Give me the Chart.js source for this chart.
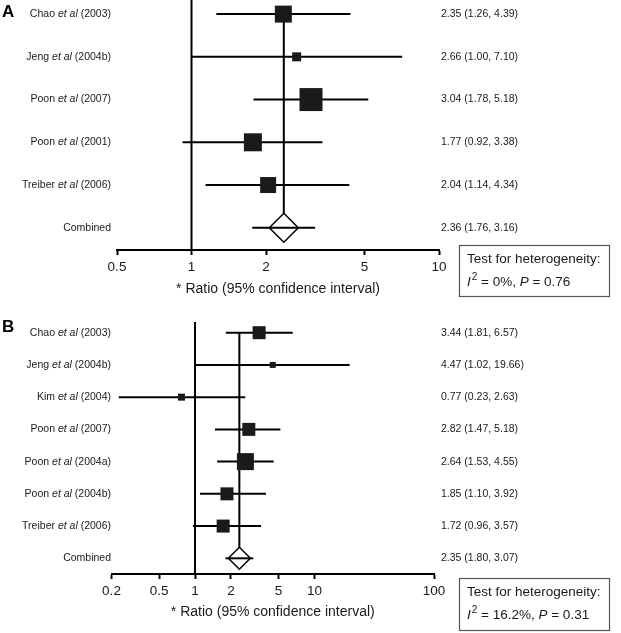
<!DOCTYPE html>
<html>
<head>
<meta charset="utf-8">
<script src="https://cdn.jsdelivr.net/npm/chart.js@4.4.1/dist/chart.umd.min.js"></script>
<style>
  html, body { margin: 0; padding: 0; background: #fff; }
  canvas { display: block; }
</style>
</head>
<body>
<canvas id="forest-a" width="621" height="310"></canvas>
<canvas id="forest-b" width="621" height="323"></canvas>
<script>
// panel A
const authorsA = ['Chao', 'Jeng', 'Poon', 'Poon', 'Treiber'];
const yearsA = ['2003', '2004b', '2007', '2001', '2006'];
const ratioA = [2.35, 2.66, 3.04, 1.77, 2.04];
const lowerA = [1.26, 1.00, 1.78, 0.92, 1.14];
const upperA = [4.39, 7.10, 5.18, 3.38, 4.34];
const combinedA = [2.36, 1.76, 3.16];
const ticksA = [0.5, 1, 2, 5, 10];
const hetA = ['0%', '0.76'];

// panel B
const authorsB = ['Chao', 'Jeng', 'Kim', 'Poon', 'Poon', 'Poon', 'Treiber'];
const yearsB = ['2003', '2004b', '2004', '2007', '2004a', '2004b', '2006'];
const ratioB = [3.44, 4.47, 0.77, 2.82, 2.64, 1.85, 1.72];
const lowerB = [1.81, 1.02, 0.23, 1.47, 1.53, 1.10, 0.96];
const upperB = [6.57, 19.66, 2.63, 5.18, 4.55, 3.92, 3.57];
const combinedB = [2.35, 1.80, 3.07];
const ticksB = [0.2, 0.5, 1, 2, 5, 10, 100];
const hetB = ['16.2%', '0.31'];

// square side in px for each study (weight)
const boxA = [17, 9, 23, 18, 16];
const boxB = [13, 6, 7, 13, 17, 13, 13];

const FONT = '"Liberation Sans", Arial, Helvetica, sans-serif';
const INK = '#1a1a1a';

function fmt(v) { return v.toFixed(2); }

function textRow(ctx, parts, x, y, align) {
  let total = 0;
  parts.forEach(p => { ctx.font = p[1]; total += ctx.measureText(p[0]).width; });
  let cx = align === 'right' ? x - total : x;
  parts.forEach(p => {
    ctx.font = p[1];
    ctx.fillText(p[0], cx, y);
    cx += ctx.measureText(p[0]).width;
  });
}

function forest(id, d) {
  const n = d.authors.length;
  const lineDs = (pts, order) => ({
    data: pts, showLine: true, borderColor: '#000', borderWidth: 2,
    pointRadius: 0, pointHoverRadius: 0, clip: false, order: order
  });

  const datasets = [];
  // reference line at 1 and combined estimate line
  datasets.push(lineDs([{x: 1, y: d.nullTop}, {x: 1, y: d.yMax}], 6));
  datasets.push(lineDs([{x: d.combined[0], y: 0}, {x: d.combined[0], y: n}], 6));
  // study intervals
  for (let i = 0; i < n; i++) {
    datasets.push(lineDs([{x: d.lower[i], y: i}, {x: d.upper[i], y: i}], 5));
  }
  // study squares
  datasets.push({
    data: d.ratio.map((v, i) => ({x: v, y: i})),
    pointStyle: 'rect',
    pointRadius: c => d.box[c.dataIndex] / Math.SQRT2,
    pointHoverRadius: c => d.box[c.dataIndex] / Math.SQRT2,
    pointBackgroundColor: INK, pointBorderColor: INK, pointBorderWidth: 0,
    clip: false, order: 4
  });
  // combined diamond and its interval
  datasets.push({
    data: [{x: d.combined[0], y: n}],
    pointStyle: 'rectRot', pointRadius: d.diamond, pointHoverRadius: d.diamond,
    pointBackgroundColor: '#fff', pointBorderColor: '#000', pointBorderWidth: 1.5,
    clip: false, order: 3
  });
  datasets.push(lineDs([{x: d.combined[1], y: n}, {x: d.combined[2], y: n}], 2));

  const labels = {
    id: 'labels',
    afterDraw(chart) {
      const ctx = chart.ctx;
      const ys = chart.scales.y;
      const normal = '10.5px ' + FONT;
      const italic = 'italic 10.5px ' + FONT;
      ctx.save();
      ctx.fillStyle = INK;
      ctx.textBaseline = 'middle';
      for (let i = 0; i < n; i++) {
        const y = ys.getPixelForValue(i);
        textRow(ctx, [[d.authors[i] + ' ', normal], ['et al', italic], [' (' + d.years[i] + ')', normal]], 111, y, 'right');
        textRow(ctx, [[fmt(d.ratio[i]) + ' (' + fmt(d.lower[i]) + ', ' + fmt(d.upper[i]) + ')', normal]], 441, y, 'left');
      }
      const yc = ys.getPixelForValue(n);
      textRow(ctx, [['Combined', normal]], 111, yc, 'right');
      textRow(ctx, [[fmt(d.combined[0]) + ' (' + fmt(d.combined[1]) + ', ' + fmt(d.combined[2]) + ')', normal]], 441, yc, 'left');

      // panel letter
      ctx.font = 'bold 17px ' + FONT;
      ctx.fillStyle = '#000';
      ctx.fillText(d.letter, 2, d.letterY);

      // heterogeneity box
      const b = d.hetBox;
      ctx.strokeStyle = '#555';
      ctx.lineWidth = 1.2;
      ctx.strokeRect(b[0] + 0.5, b[1] + 0.5, b[2], b[3]);
      ctx.fillStyle = INK;
      const f = '13.5px ' + FONT;
      const fi = 'italic 13.5px ' + FONT;
      textRow(ctx, [['Test for heterogeneity:', f]], b[0] + 8, b[1] + 14, 'left');
      const y2 = b[1] + 37;
      let x = b[0] + 8;
      ctx.font = fi; ctx.fillText('I', x, y2); x += ctx.measureText('I').width + 1;
      ctx.font = '10px ' + FONT; ctx.fillText('2', x, y2 - 5); x += ctx.measureText('2').width;
      textRow(ctx, [[' = ' + d.het[0] + ', ', f], ['P', fi], [' = ' + d.het[1], f]], x, y2, 'left');
      ctx.restore();
    }
  };

  return new Chart(document.getElementById(id), {
    type: 'scatter',
    data: { datasets: datasets },
    options: {
      responsive: false,
      animation: false,
      events: [],
      layout: { padding: 0, autoPadding: false },
      plugins: { legend: { display: false }, tooltip: { enabled: false } },
      scales: {
        x: {
          type: 'logarithmic', min: d.ticks[0], max: d.ticks[d.ticks.length - 1], bounds: 'data',
          afterBuildTicks: s => { s.ticks = d.ticks.map(v => ({ value: v })); },
          afterFit: s => { s.height = d.axisH; },
          ticks: { autoSkip: false, maxRotation: 0, color: INK, padding: 4,
                   font: { size: 13.5, family: FONT }, callback: v => String(v) },
          grid: { drawOnChartArea: false, drawTicks: true, tickLength: 5, tickWidth: 2, tickColor: '#000' },
          border: { display: true, color: '#000', width: 2 },
          title: { display: true, text: '* Ratio (95% confidence interval)', color: INK,
                   font: { size: 14, family: FONT }, padding: { top: 0, bottom: 12.6 } }
        },
        y: {
          type: 'linear', min: d.yMin, max: d.yMax, reverse: true,
          afterFit: s => { s.width = d.left; },
          ticks: { display: false }, grid: { display: false }, border: { display: false }
        },
        y2: {
          type: 'linear', position: 'right',
          afterFit: s => { s.width = d.right; },
          ticks: { display: false }, grid: { display: false }, border: { display: false }
        }
      }
    },
    plugins: [labels]
  });
}

forest('forest-a', {
  letter: 'A', letterY: 12,
  authors: authorsA, years: yearsA, ratio: ratioA, lower: lowerA, upper: upperA,
  combined: combinedA, ticks: ticksA, het: hetA, box: boxA,
  yMin: -0.33, yMax: 5.52, nullTop: -0.33, left: 117, right: 182, axisH: 60,
  diamond: 14.5, hetBox: [459, 245, 150, 51]
});

forest('forest-b', {
  letter: 'B', letterY: 17,
  authors: authorsB, years: yearsB, ratio: ratioB, lower: lowerB, upper: upperB,
  combined: combinedB, ticks: ticksB, het: hetB, box: boxB,
  yMin: -0.704, yMax: 7.487, nullTop: -0.332, left: 111.5, right: 187, axisH: 59,
  diamond: 11, hetBox: [459, 268, 150, 52]
});
</script>
</body>
</html>
